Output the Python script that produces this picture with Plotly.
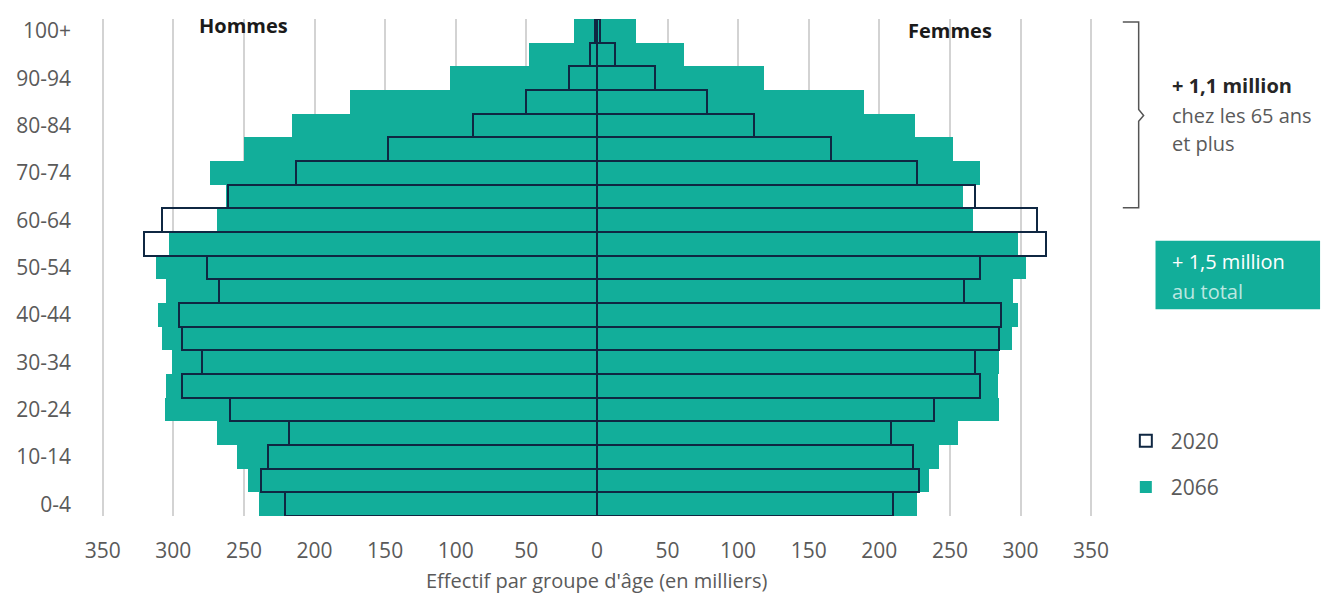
import plotly.graph_objects as go

age_groups = ['0-4', '5-9', '10-14', '15-19', '20-24', '25-29', '30-34', '35-39',
              '40-44', '45-49', '50-54', '55-59', '60-64', '65-69', '70-74',
              '75-79', '80-84', '85-89', '90-94', '95-99', '100+']

men_2066 = [239, 247, 255, 269, 306, 305, 301, 308, 311, 305, 312, 303, 269, 263, 274,
            250, 216, 175, 104, 48, 16]
men_2020 = [221, 238, 233, 218, 260, 294, 280, 294, 296, 268, 276, 321, 308, 261, 213,
            148, 88, 50, 20, 5, 1.5]
women_2066 = [227, 235, 242, 256, 285, 284, 285, 294, 298, 295, 304, 298, 266, 259, 271,
              252, 225, 189, 118, 62, 28]
women_2020 = [210, 228, 224, 208, 239, 271, 268, 285, 286, 260, 271, 318, 312, 268, 227,
              166, 111, 78, 41, 13, 2]

x_ticks = [-350, -300, -250, -200, -150, -100, -50, 0, 50, 100, 150, 200, 250, 300, 350]
x_tick_text = [str(abs(v)) for v in x_ticks]

TEAL = '#12AE9A'
NAVY = '#0F2742'
GREY = '#5A5A5A'
FONT = 'Open Sans'
OFF = 7  # page offset of the figure inside the browser window

fig = go.Figure()

fig.add_trace(go.Bar(y=age_groups, x=[-v for v in men_2066], orientation='h',
                     marker=dict(color=TEAL, line=dict(width=0)),
                     name='2066', legendgroup='2066', legendrank=2, showlegend=True))
fig.add_trace(go.Bar(y=age_groups, x=women_2066, orientation='h',
                     marker=dict(color=TEAL, line=dict(width=0)),
                     name='2066', legendgroup='2066', legendrank=2, showlegend=False))
fig.add_trace(go.Bar(y=age_groups, x=[-v for v in men_2020], orientation='h',
                     marker=dict(color='rgba(0,0,0,0)', line=dict(color=NAVY, width=2)),
                     name='2020', legendgroup='2020', legendrank=1, showlegend=True))
fig.add_trace(go.Bar(y=age_groups, x=women_2020, orientation='h',
                     marker=dict(color='rgba(0,0,0,0)', line=dict(color=NAVY, width=2)),
                     name='2020', legendgroup='2020', legendrank=1, showlegend=False))

# plot area in window pixels: x 70..1100, y 15..515
fig.update_layout(
    width=1341, height=597,
    margin=dict(l=70 - OFF, r=1341 - (1100 - OFF), t=15 - OFF, b=597 - (515 - OFF)),
    paper_bgcolor='white', plot_bgcolor='white',
    barmode='overlay', bargap=0,
    font=dict(family=FONT, size=21, color=GREY),
    legend=dict(x=(1120 - 70) / 1030, y=(515 - 419) / 500, xanchor='left', yanchor='top',
                traceorder='grouped', tracegroupgap=16, itemwidth=40,
                font=dict(family=FONT, size=21, color=GREY),
                bgcolor='rgba(0,0,0,0)'),
    xaxis=dict(range=[-366.1, 357], tickvals=x_ticks, ticktext=x_tick_text,
               showgrid=True, gridcolor='#D3D3D3', gridwidth=1.5,
               zeroline=False, showline=False, ticks='',
               ticklabelstandoff=20,
               tickfont=dict(family=FONT, size=21, color=GREY)),
    yaxis=dict(type='category', categoryorder='array', categoryarray=age_groups,
               range=[-0.5, 20.5],
               tickvals=age_groups[::2], ticktext=age_groups[::2],
               showgrid=False, zeroline=False, showline=False, ticks='',
               ticklabelstandoff=8,
               tickfont=dict(family=FONT, size=21, color=GREY)),
)


def px(x):
    return (x - 70) / 1030


def py(y):
    return (515 - y) / 500


# white patches hiding gridlines behind the sex labels
for xc in (-250, 250):
    fig.add_shape(type='rect', xref='x', yref='paper', x0=xc - 6, x1=xc + 6,
                  y0=py(63), y1=1.0, fillcolor='white', line=dict(width=0),
                  layer='between')

fig.add_annotation(x=-250, y=py(22), xref='x', yref='paper', text='<b>Hommes</b>',
                   showarrow=False, xanchor='center', yanchor='middle',
                   font=dict(family=FONT, size=20, color='#1A1A1A'))
fig.add_annotation(x=250, y=py(27), xref='x', yref='paper', text='<b>Femmes</b>',
                   showarrow=False, xanchor='center', yanchor='middle',
                   font=dict(family=FONT, size=20, color='#1A1A1A'))

# x axis title
fig.add_annotation(x=0, y=py(580), xref='x', yref='paper',
                   text="Effectif par groupe d'âge (en milliers)", showarrow=False,
                   xanchor='center', yanchor='middle',
                   font=dict(family=FONT, size=20, color=GREY))

# bracket
bracket_path = (f'M {px(1122)},{py(18)} L {px(1138)},{py(18)} L {px(1138)},{py(106)} '
                f'L {px(1143)},{py(112)} L {px(1138)},{py(118)} L {px(1138)},{py(205)} '
                f'L {px(1122)},{py(205)}')
fig.add_shape(type='path', xref='paper', yref='paper', path=bracket_path,
              line=dict(color='#555555', width=1.5))

side_texts = [
    ('<b>+ 1,1 million</b>', 82, '#262626'),
    ('chez les 65 ans', 112, GREY),
    ('et plus', 140, GREY),
]
for txt, yy, col in side_texts:
    fig.add_annotation(x=px(1170), y=py(yy), xref='paper', yref='paper',
                       xanchor='left', yanchor='middle', text=txt, showarrow=False,
                       font=dict(family=FONT, size=20, color=col))

# total box
fig.add_shape(type='rect', xref='paper', yref='paper',
              x0=px(1155), x1=px(1321), y0=py(307), y1=py(238),
              fillcolor=TEAL, line=dict(width=0))
fig.add_annotation(x=px(1170), y=py(259), xref='paper', yref='paper',
                   xanchor='left', yanchor='middle',
                   text='+ 1,5 million', showarrow=False,
                   font=dict(family=FONT, size=20, color='white'))
fig.add_annotation(x=px(1170), y=py(289), xref='paper', yref='paper',
                   xanchor='left', yanchor='middle',
                   text='au total', showarrow=False,
                   font=dict(family=FONT, size=20, color='rgba(255,255,255,0.72)'))

fig.write_html('out.html')
